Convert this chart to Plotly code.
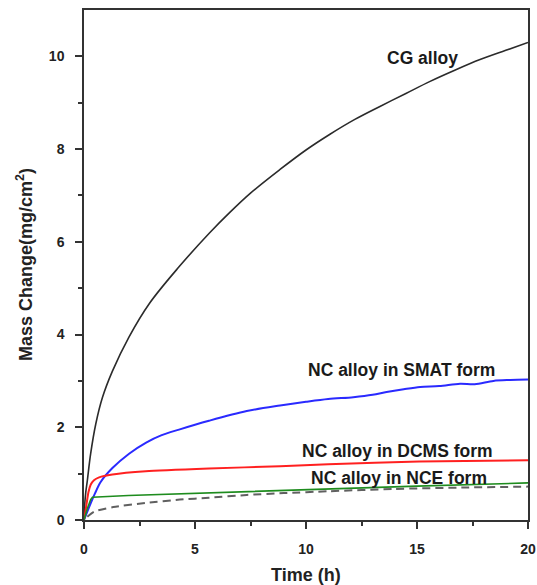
import plotly.graph_objects as go

# Data
cg_t = [0, 0.02, 0.08, 0.15, 0.3, 0.53, 0.83, 1.28, 2.03, 2.93, 4.28, 5.63, 6.58,
        7.5, 8.83, 10.0, 11.08, 12.2, 13.33, 14.5, 15.59, 16.7, 17.84, 19.0, 20.0]
cg_v = [0, 0.25, 0.6, 0.85, 1.43, 2.07, 2.64, 3.21, 3.95, 4.66, 5.46, 6.18, 6.64,
        7.05, 7.56, 7.98, 8.32, 8.64, 8.92, 9.2, 9.46, 9.7, 9.93, 10.13, 10.30]

smat_t = [0, 0.3, 0.5, 0.75, 1.28, 2.03, 2.8, 3.5, 4.28, 5.63, 7.33, 8.83, 10.0, 11.0, 12.13, 13.0, 13.63,
          14.4, 15.14, 16.0, 16.94, 17.6, 18.44, 19.2, 20.0]
smat_v = [0.0, 0.36, 0.58, 0.82, 1.12, 1.43, 1.67, 1.83, 1.95, 2.14, 2.35, 2.47, 2.55, 2.61, 2.65, 2.70, 2.76,
          2.82, 2.87, 2.89, 2.94, 2.93, 3.0, 3.02, 3.03]

dcms_t = [0, 0.1, 0.2, 0.3, 0.45, 0.68, 1.28, 2.78, 5.63, 8.83, 11.0, 15.1, 20.0]
dcms_v = [0.0, 0.3, 0.6, 0.76, 0.86, 0.92, 0.98, 1.05, 1.11, 1.16, 1.20, 1.26, 1.29]

nce_t = [0, 0.15, 0.3, 0.38, 2.0, 5.63, 8.0, 11.0, 15.0, 20.0]
nce_v = [0.0, 0.25, 0.44, 0.49, 0.53, 0.59, 0.63, 0.68, 0.73, 0.80]

cg_ref_t = [0.15, 0.45, 1.32, 2.8, 4.32, 5.63, 7.33, 9.0, 11.0, 14.0, 17.0, 20.0]
cg_ref_v = [0.07, 0.18, 0.28, 0.37, 0.44, 0.48, 0.54, 0.58, 0.62, 0.67, 0.70, 0.72]

labels = ["CG alloy", "NC alloy in SMAT form", "NC alloy in DCMS form", "NC alloy in NCE form"]
label_x = [15.27, 14.28, 14.14, 14.19]
label_y = [9.97, 3.24, 1.49, 0.91]

FONT = "Liberation Sans, Arial"

fig = go.Figure()
fig.add_trace(go.Scatter(x=cg_t, y=cg_v, mode="lines", line=dict(color="#2b2b2b", width=1.6, shape="spline", smoothing=1.0)))
fig.add_trace(go.Scatter(x=smat_t, y=smat_v, mode="lines", line=dict(color="#2a2aff", width=2, shape="spline", smoothing=0.9)))
fig.add_trace(go.Scatter(x=dcms_t, y=dcms_v, mode="lines", line=dict(color="#ff2020", width=2, shape="spline", smoothing=0.6)))
fig.add_trace(go.Scatter(x=nce_t, y=nce_v, mode="lines", line=dict(color="#1e8c1e", width=1.6)))
fig.add_trace(go.Scatter(x=cg_ref_t, y=cg_ref_v, mode="lines", line=dict(color="#606060", width=2, dash="8px,5px", shape="spline", smoothing=0.6)))

for txt, lx, ly in zip(labels, label_x, label_y):
    fig.add_annotation(x=lx, y=ly, text="<b>" + txt + "</b>", showarrow=False,
                       font=dict(family=FONT, size=17.5, color="#1a1a1a"),
                       xanchor="center", yanchor="middle")

# axis titles as annotations (pixel offsets from the plot frame)
fig.add_annotation(xref="paper", yref="paper", x=0, y=0.5, xshift=-60, textangle=-90,
                   text="<b>Mass Change(mg/cm<sup>2</sup>)</b>", showarrow=False,
                   font=dict(family=FONT, size=18, color="#222222"), xanchor="center", yanchor="middle")
fig.add_annotation(xref="paper", yref="paper", x=0.5, y=0, yshift=-55,
                   text="<b>Time (h)</b>", showarrow=False,
                   font=dict(family=FONT, size=18, color="#222222"), xanchor="center", yanchor="middle")

axis_common = dict(showgrid=False, zeroline=False, showline=True, linecolor="#333333", linewidth=1.5,
                   mirror=True, ticks="outside", tickcolor="#333333", tickwidth=1.5, ticklen=7,
                   automargin=False, ticklabelstandoff=8,
                   tickfont=dict(family=FONT, size=14, color="#222222", weight="bold"))

fig.update_xaxes(range=[0, 20], tickvals=[0, 5, 10, 15, 20], ticktext=["0", "5", "10", "15", "20"],
                 minor=dict(tickvals=[2.5, 7.5, 12.5, 17.5], ticks="outside", ticklen=4, tickcolor="#333333", tickwidth=1.5),
                 **axis_common)
fig.update_yaxes(range=[0, 11], tickvals=[0, 2, 4, 6, 8, 10], ticktext=["0", "2", "4", "6", "8", "10"],
                 minor=dict(tickvals=[1, 3, 5, 7, 9], ticks="outside", ticklen=4, tickcolor="#333333", tickwidth=1.5),
                 **axis_common)

fig.update_layout(width=537, height=585, margin=dict(l=84, r=9, t=10, b=65),
                  paper_bgcolor="white", plot_bgcolor="white", showlegend=False)

# remove the default page margin so the figure fills the window exactly
fig.write_html("out.html", config={"displayModeBar": False},
               post_script="document.body.style.margin='0';document.body.style.overflow='hidden';")
